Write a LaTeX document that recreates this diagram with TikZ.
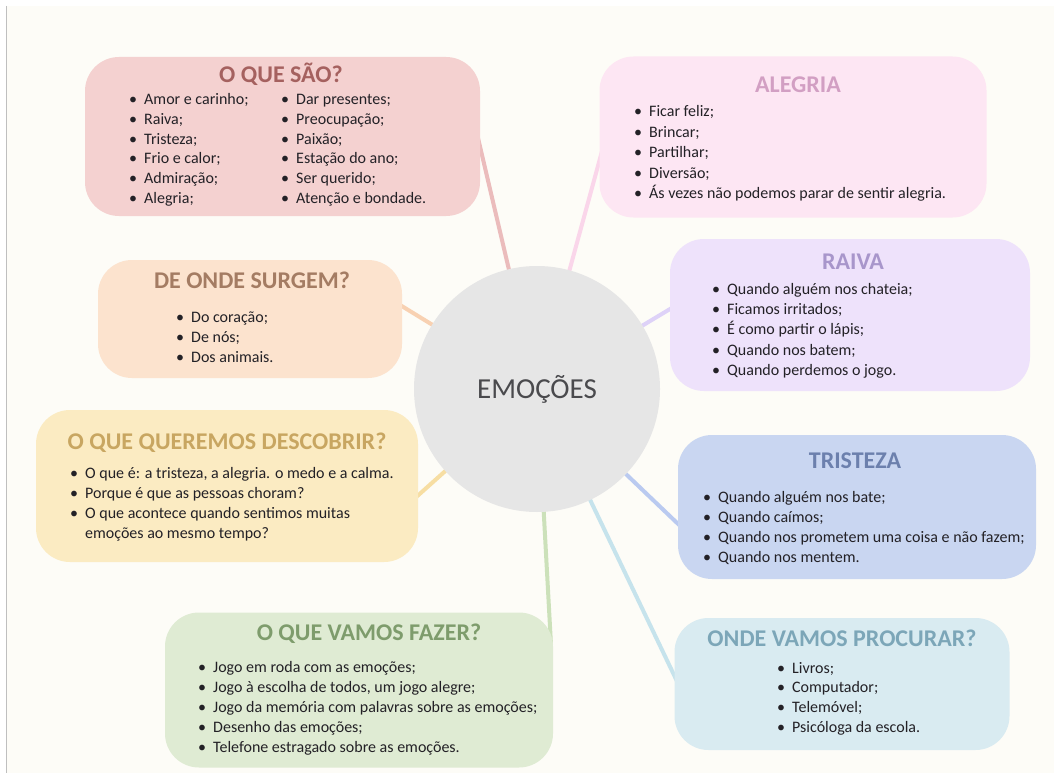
\documentclass[tikz,border=0pt]{standalone}
\usepackage{fontspec}
\setmainfont{Carlito}
\usetikzlibrary{backgrounds}

\definecolor{paper}{HTML}{FDFCF7}
\definecolor{ink}{HTML}{232126}
\definecolor{hubfill}{HTML}{E6E6E6}
\definecolor{hubtext}{HTML}{4A4A4D}
\definecolor{saofill}{HTML}{F4D1D0}
\definecolor{saotitle}{HTML}{A5615F}
\definecolor{saoline}{HTML}{EBBCBC}
\definecolor{alefill}{HTML}{FDE6F3}
\definecolor{aletitle}{HTML}{D29FC3}
\definecolor{aleline}{HTML}{FAD6EA}
\definecolor{surfill}{HTML}{FCE3CE}
\definecolor{surtitle}{HTML}{A47C63}
\definecolor{surline}{HTML}{F8D1B2}
\definecolor{raifill}{HTML}{EEE2FB}
\definecolor{raititle}{HTML}{A896CB}
\definecolor{railine}{HTML}{DED2F8}
\definecolor{desfill}{HTML}{FBEBC2}
\definecolor{destitle}{HTML}{C8A661}
\definecolor{desline}{HTML}{F7DEA3}
\definecolor{trifill}{HTML}{C9D6F1}
\definecolor{trititle}{HTML}{6C80AD}
\definecolor{triline}{HTML}{BACAF0}
\definecolor{fazfill}{HTML}{DFEBD3}
\definecolor{faztitle}{HTML}{7E9C6C}
\definecolor{fazline}{HTML}{CCE1BA}
\definecolor{profill}{HTML}{D9EBF1}
\definecolor{protitle}{HTML}{7CA6B8}
\definecolor{proline}{HTML}{C6E3EC}

\newcommand\bul{\makebox[15pt][l]{\textbullet}}

\tikzset{
  blob/.style={rounded corners=34pt, inner sep=0pt},
  head/.style={anchor=base, inner sep=0pt, font=\bfseries\fontsize{24}{26}\selectfont},
  item/.style={anchor=base west, inner sep=0pt, text=ink,
    font=\fontsize{16}{18}\selectfont, execute at begin node=\bul},
  cont/.style={anchor=base west, inner sep=0pt, text=ink,
    font=\fontsize{16}{18}\selectfont},
  link/.style={line width=4pt},
}

\begin{document}
\begin{tikzpicture}[x=1pt,y=-1pt]
\useasboundingbox (0,0) rectangle (1054,773);

% centre
\node[circle, fill=hubfill, minimum size=246pt, inner sep=0pt, text=hubtext,
  font=\fontsize{29}{30}\selectfont] (hub) at (537,389) {EMOÇÕES};

% boxes
\node[blob, fill=saofill, minimum width=395pt, minimum height=159pt] (sao) at (282.5,136.5) {};
\node[blob, fill=alefill, minimum width=387pt, minimum height=161pt] (alegria) at (793,137) {};
\node[blob, fill=surfill, minimum width=304pt, minimum height=118pt] (surgem) at (250,319) {};
\node[blob, fill=raifill, minimum width=360pt, minimum height=152pt] (raiva) at (850,315) {};
\node[blob, fill=desfill, minimum width=382pt, minimum height=152pt] (descobrir) at (227,486) {};
\node[blob, fill=trifill, minimum width=358pt, minimum height=144pt] (tristeza) at (857,507) {};
\node[blob, fill=fazfill, minimum width=388pt, minimum height=155pt] (fazer) at (359,690) {};
\node[blob, fill=profill, minimum width=335pt, minimum height=132pt] (procurar) at (842,684) {};

% titles
\node[head, text=saotitle] (sao-t) at (281,83) {O QUE SÃO?};
\node[head, text=aletitle] (alegria-t) at (798,93) {ALEGRIA};
\node[head, text=surtitle] (surgem-t) at (252,288) {DE ONDE SURGEM?};
\node[head, text=raititle] (raiva-t) at (853,269) {RAIVA};
\node[head, text=destitle] (descobrir-t) at (227,449) {O QUE QUEREMOS DESCOBRIR?};
\node[head, text=trititle] (tristeza-t) at (855,468) {TRISTEZA};
\node[head, text=faztitle] (fazer-t) at (369,640) {O QUE VAMOS FAZER?};
\node[head, text=protitle] (procurar-t) at (842,646) {ONDE VAMOS PROCURAR?};

% lists
\foreach \txt [count=\i from 0] in {Amor e carinho;, Raiva;, Tristeza;, Frio e calor;, Admiração;, Alegria;}
  \node[item] (sao-a\i) at (129,{105+19.6*\i}) {\txt};
\foreach \txt [count=\i from 0] in {Dar presentes;, Preocupação;, Paixão;, Estação do ano;, Ser querido;, Atenção e bondade.}
  \node[item] (sao-b\i) at (281,{105+19.6*\i}) {\txt};
\foreach \txt [count=\i from 0] in {Ficar feliz;, Brincar;, Partilhar;, Diversão;, Ás vezes não podemos parar de sentir alegria.}
  \node[item] (alegria-\i) at (634,{117+20.4*\i}) {\txt};
\foreach \txt [count=\i from 0] in {Do coração;, De nós;, Dos animais.}
  \node[item] (surgem-\i) at (176,{322+20.3*\i}) {\txt};
\foreach \txt [count=\i from 0] in {Quando alguém nos chateia;, Ficamos irritados;, É como partir o lápis;, Quando nos batem;, Quando perdemos o jogo.}
  \node[item] (raiva-\i) at (712,{294.5+20.2*\i}) {\txt};
\foreach \txt [count=\i from 0] in {{O que é: a tristeza, a alegria. o medo e a calma.}, Porque é que as pessoas choram?, O que acontece quando sentimos muitas}
  \node[item] (descobrir-\i) at (70,{478+20*\i}) {\txt};
\node[cont] (descobrir-3) at (85,538) {emoções ao mesmo tempo?};
\foreach \txt [count=\i from 0] in {Quando alguém nos bate;, Quando caímos;, Quando nos prometem uma coisa e não fazem;, Quando nos mentem.}
  \node[item] (tristeza-\i) at (703,{502+20*\i}) {\txt};
\foreach \txt [count=\i from 0] in {Jogo em roda com as emoções;, {Jogo à escolha de todos, um jogo alegre;}, Jogo da memória com palavras sobre as emoções;, Desenho das emoções;, Telefone estragado sobre as emoções.}
  \node[item] (fazer-\i) at (198,{672+20.2*\i}) {\txt};
\foreach \txt [count=\i from 0] in {Livros;, Computador;, Telemóvel;, Psicóloga da escola.}
  \node[item] (procurar-\i) at (777,{673+19.7*\i}) {\txt};

% ends of the links, inside the boxes
\coordinate (sao-end) at (474,121);
\coordinate (alegria-end) at (613,111);
\coordinate (surgem-end) at (374,289);
\coordinate (raiva-end) at (695,294);
\coordinate (descobrir-end) at (395,516);
\coordinate (tristeza-end) at (698,543);
\coordinate (fazer-end) at (551,645);
\coordinate (procurar-end) at (686,700);

\begin{pgfonlayer}{background}
\fill[paper] (7,6) rectangle (1054,773);
\draw[black!25, line width=1pt] (6.5,6) -- (6.5,773);
\draw[link, saoline] (hub.center) -- (sao-end);
\draw[link, aleline] (hub.center) -- (alegria-end);
\draw[link, surline] (hub.center) -- (surgem-end);
\draw[link, railine] (hub.center) -- (raiva-end);
\draw[link, desline] (hub.center) -- (descobrir-end);
\draw[link, triline] (hub.center) -- (tristeza-end);
\draw[link, fazline] (hub.center) -- (fazer-end);
\draw[link, proline] (hub.center) -- (procurar-end);
\end{pgfonlayer}
\end{tikzpicture}
\end{document}
